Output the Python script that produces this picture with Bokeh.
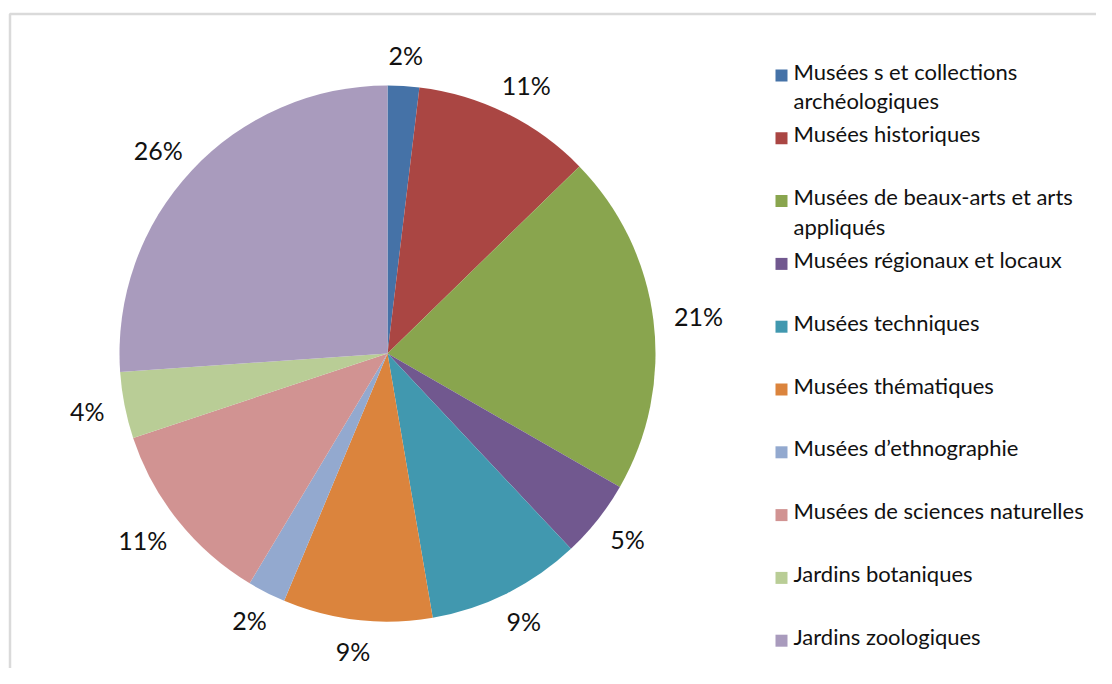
import math
from bokeh.plotting import figure
from bokeh.models import Range1d, BoxAnnotation, ColumnDataSource
from bokeh.core.properties import value
from bokeh.embed import file_html
from bokeh.resources import INLINE

categories = [
    "Musées s et collections\narchéologiques",
    "Musées historiques",
    "Musées de beaux-arts et arts\nappliqués",
    "Musées régionaux et locaux",
    "Musées techniques",
    "Musées thématiques",
    "Musées d’ethnographie",
    "Musées de sciences naturelles",
    "Jardins botaniques",
    "Jardins zoologiques",
]
shares = [1.9, 10.8, 20.6, 4.7, 9.3, 9.0, 2.3, 11.3, 4.0, 26.1]
colors = ["#4572A7", "#AA4643", "#89A54E", "#71588F", "#4198AF",
          "#DB843D", "#93A9CF", "#D19392", "#B9CD96", "#A99BBD"]

W, H = 1096, 668
FONT = "Lato"

p = figure(width=W, height=H, output_backend="svg", toolbar_location=None,
           x_range=Range1d(0, W), y_range=Range1d(0, H), min_border=0,
           outline_line_color=None, background_fill_color="white")
p.axis.visible = False
p.grid.visible = False

# chart border (left and top visible)
p.add_layout(BoxAnnotation(left=9.5, right=W + 50, top=H - 13.5, bottom=-50,
                           fill_alpha=0, line_color="#868686", line_width=2.5))

cx, cy, r = 387, H - 353, 268
total = sum(shares)
starts, ends, lx, ly, labels = [], [], [], [], []
acc = 0.0
for s in shares:
    a0 = acc / total * 2 * math.pi
    acc += s
    a1 = acc / total * 2 * math.pi
    starts.append(math.pi / 2 - a0)
    ends.append(math.pi / 2 - a1)
    mid = (a0 + a1) / 2
    lab = f"{round(s / total * 100)}%"
    bw, bh = 15 * len(lab), 16
    rr = r + 23
    lx.append(cx + (rr + bw / 2) * math.sin(mid))
    ly.append(cy + (rr + bh / 2) * math.cos(mid))
    labels.append(lab)

src = ColumnDataSource(dict(start=starts, end=ends, color=colors))
p.wedge(x=cx, y=cy, radius=r, start_angle="start", end_angle="end",
        direction="clock", fill_color="color", line_color=None, source=src)

p.text(x=lx, y=ly, text=labels, text_align="center", text_baseline="middle",
       text_font=value(FONT), text_font_size="25px", text_color="#111111")

# legend
n = len(categories)
leg_y = [H - 73 - i * 62.8 for i in range(n)]
p.scatter(x=[781] * n, y=[y - 2 for y in leg_y], marker="square", size=12,
          fill_color=colors, line_color=None)
p.text(x=[793] * n, y=[y + 16 for y in leg_y], text=categories,
       text_align="left", text_baseline="top", text_line_height=1.1,
       text_font=value(FONT), text_font_size="22px", text_color="#111111")

open("out.html", "w").write(file_html(p, INLINE))
